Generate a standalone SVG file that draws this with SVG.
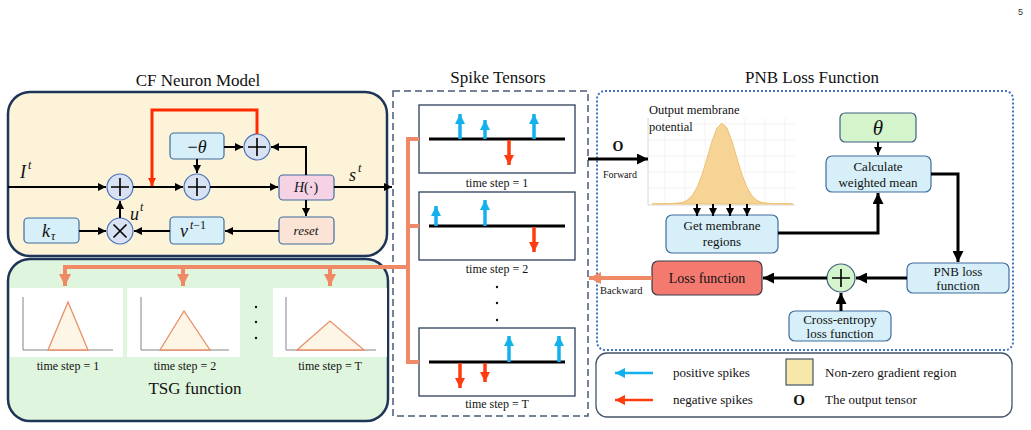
<svg xmlns="http://www.w3.org/2000/svg" width="1031" height="430" viewBox="0 0 1031 430">
<style>
.t{font-family:"Liberation Serif","Times New Roman",serif;fill:#111}
.m{font-family:"Liberation Serif","Times New Roman",serif;font-style:italic;fill:#111}
.node{fill:#d6eff8;stroke:#3f6d9e;stroke-width:1.2}
.circ{fill:#d9e2f3;stroke:#4a72b8;stroke-width:1.2}
.ln{fill:none;stroke:#000;stroke-width:2}
.thk{fill:none;stroke:#000;stroke-width:3}
.org{fill:none;stroke:#f08a66;stroke-width:4}
.blu{fill:none;stroke:#12b0ec;stroke-width:3.5}
.red{fill:none;stroke:#ff3b10;stroke-width:3.5}
.frame{fill:#fff;stroke:#2f3e5c;stroke-width:1.3}
.grid{stroke:#f0f0f0;stroke-width:0.8}
</style>
<defs>
<marker id="ah" viewBox="0 0 10 10" refX="10" refY="5" markerWidth="8" markerHeight="8" markerUnits="userSpaceOnUse" orient="auto"><path d="M0,0L10,5L0,10z" fill="#000"/></marker>
<marker id="ahb" viewBox="0 0 10 10" refX="10" refY="5" markerWidth="11" markerHeight="11" markerUnits="userSpaceOnUse" orient="auto"><path d="M0,0L10,5L0,10z" fill="#000"/></marker>
<marker id="ahr" viewBox="0 0 10 10" refX="10" refY="5" markerWidth="8" markerHeight="8" markerUnits="userSpaceOnUse" orient="auto"><path d="M0,0L10,5L0,10z" fill="#ff2a00"/></marker>
<marker id="aho" viewBox="0 0 10 10" refX="10" refY="5" markerWidth="12" markerHeight="12" markerUnits="userSpaceOnUse" orient="auto"><path d="M0,0L10,5L0,10z" fill="#f08a66"/></marker>
<marker id="ahbl" viewBox="0 0 10 10" refX="10" refY="5" markerWidth="10" markerHeight="10" markerUnits="userSpaceOnUse" orient="auto"><path d="M0,0L10,5L0,10z" fill="#12b0ec"/></marker>
<marker id="ahrd" viewBox="0 0 10 10" refX="10" refY="5" markerWidth="10" markerHeight="10" markerUnits="userSpaceOnUse" orient="auto"><path d="M0,0L10,5L0,10z" fill="#ff3b10"/></marker>
</defs>
<rect width="1031" height="430" fill="#fff"/>
<text x="1018" y="15" font-family="Liberation Sans,Arial,sans-serif" font-size="9" fill="#333">5</text>

<!-- Titles -->
<text class="t" x="198" y="86" font-size="17" text-anchor="middle">CF Neuron Model</text>
<text class="t" x="498" y="83" font-size="17" text-anchor="middle">Spike Tensors</text>
<text class="t" x="812" y="83" font-size="17" text-anchor="middle">PNB Loss Function</text>

<!-- Containers -->
<g id="cf-box"><rect x="8" y="92" width="379" height="164" rx="22" fill="#fcf3d9" stroke="#1f3558" stroke-width="2.5"/></g>
<g id="tsg-box"><rect x="8" y="259" width="380" height="162" rx="22" fill="#e0f5dd" stroke="#1f3558" stroke-width="2.5"/></g>
<g id="spike-box"><rect x="393" y="91" width="195" height="325" fill="none" stroke="#4a5a75" stroke-width="1.5" stroke-dasharray="7,4"/></g>
<g id="pnb-box"><rect x="597" y="91" width="416" height="259" rx="8" fill="none" stroke="#4472c4" stroke-width="2" stroke-dasharray="2,2"/></g>

<!-- CF neuron nodes -->
<g id="sum1"><circle class="circ" cx="120" cy="187" r="13"/><path d="M111,187h18M120,178v18" stroke="#000" stroke-width="1.6"/></g>
<g id="sum2"><circle class="circ" cx="197" cy="187" r="13"/><path d="M188,187h18M197,178v18" stroke="#000" stroke-width="1.6"/></g>
<g id="sum3"><circle class="circ" cx="257" cy="147" r="13"/><path d="M248,147h18M257,138v18" stroke="#000" stroke-width="1.6"/></g>
<g id="mult"><circle class="circ" cx="120" cy="231" r="13"/><path d="M113.5,224.5l13,13M126.5,224.5l-13,13" stroke="#000" stroke-width="1.6"/></g>
<g id="neg-theta"><rect class="node" x="170" y="133" width="54" height="26" rx="4"/><text class="m" x="197" y="153" font-size="18" text-anchor="middle"><tspan font-style="normal">−</tspan>θ</text></g>
<g id="heaviside"><rect x="279" y="175" width="55" height="25" rx="4" fill="#f6d3e4" stroke="#3f6d9e" stroke-width="1.2"/><text class="m" x="306" y="192" font-size="14" text-anchor="middle">H<tspan font-style="normal">(·)</tspan></text></g>
<g id="reset"><rect x="279" y="217" width="55" height="27" rx="4" fill="#fbe3d6" stroke="#3f6d9e" stroke-width="1.2"/><text class="m" x="306" y="235" font-size="13" text-anchor="middle">reset</text></g>
<g id="v-prev"><rect class="node" x="170" y="217" width="54" height="27" rx="4"/><text class="m" x="180" y="237" font-size="18">v</text><text class="m" x="190" y="229" font-size="12">t<tspan font-style="normal">−1</tspan></text></g>
<g id="k-tau"><rect class="node" x="24" y="218" width="55" height="25" rx="4"/><text class="m" x="42" y="237" font-size="18">k</text><text class="m" x="51" y="240" font-size="12">τ</text></g>
<text class="m" x="20" y="178" font-size="18">I</text><text class="m" x="28" y="169" font-size="12">t</text>
<text class="m" x="349" y="181" font-size="18">s</text><text class="m" x="358" y="172" font-size="12">t</text>
<text class="m" x="130" y="220" font-size="18">u</text><text class="m" x="140" y="211" font-size="12">t</text>

<!-- TSG panels -->
<g id="tsg1">
<rect x="10" y="288" width="113" height="69" fill="#fff"/>
<path d="M23,297V350H113" fill="none" stroke="#777" stroke-width="0.9"/>
<path d="M48,350L68,302L88,350z" fill="#fdf5e6" stroke="#e8906a" stroke-width="1.3"/>
<text class="t" x="68" y="370" font-size="12" text-anchor="middle">time step = 1</text>
</g>
<g id="tsg2">
<rect x="127" y="288" width="113" height="69" fill="#fff"/>
<path d="M141,297V350H229" fill="none" stroke="#777" stroke-width="0.9"/>
<path d="M160,350L184,311L210,350z" fill="#fdf5e6" stroke="#e8906a" stroke-width="1.3"/>
<text class="t" x="185" y="370" font-size="12" text-anchor="middle">time step = 2</text>
</g>
<g id="tsg3">
<rect x="273" y="288" width="114" height="69" fill="#fff"/>
<path d="M286,297V350H376" fill="none" stroke="#777" stroke-width="0.9"/>
<path d="M297,350L330,321L364,350z" fill="#fdf5e6" stroke="#e8906a" stroke-width="1.3"/>
<text class="t" x="330" y="370" font-size="12" text-anchor="middle">time step = T</text>
</g>
<g fill="#111"><circle cx="256" cy="307" r="1.2"/><circle cx="256" cy="322" r="1.2"/><circle cx="256" cy="338" r="1.2"/></g>
<text class="t" x="195" y="394" font-size="17" text-anchor="middle">TSG function</text>

<!-- Spike tensor frames -->
<g id="spikes1">
<rect class="frame" x="419" y="105" width="156" height="68"/>
<line x1="429" y1="139" x2="565" y2="139" stroke="#000" stroke-width="3"/>
<path class="blu" d="M460,139V114" marker-end="url(#ahbl)"/>
<path class="blu" d="M485,139V120" marker-end="url(#ahbl)"/>
<path class="blu" d="M534,139V114" marker-end="url(#ahbl)"/>
<path class="red" d="M509,140V165" marker-end="url(#ahrd)"/>
<text class="t" x="497" y="187" font-size="12" text-anchor="middle">time step = 1</text>
</g>
<g id="spikes2">
<rect class="frame" x="419" y="192" width="156" height="68"/>
<line x1="429" y1="226" x2="565" y2="226" stroke="#000" stroke-width="3"/>
<path class="blu" d="M436,226V206" marker-end="url(#ahbl)"/>
<path class="blu" d="M485,226V200" marker-end="url(#ahbl)"/>
<path class="red" d="M534,227V252" marker-end="url(#ahrd)"/>
<text class="t" x="497" y="273" font-size="12" text-anchor="middle">time step = 2</text>
</g>
<g fill="#111"><circle cx="497" cy="287" r="1.2"/><circle cx="497" cy="303" r="1.2"/><circle cx="497" cy="320" r="1.2"/></g>
<g id="spikesT">
<rect class="frame" x="419" y="328" width="156" height="68"/>
<line x1="429" y1="362" x2="565" y2="362" stroke="#000" stroke-width="3"/>
<path class="blu" d="M509,362V336" marker-end="url(#ahbl)"/>
<path class="blu" d="M559,362V336" marker-end="url(#ahbl)"/>
<path class="red" d="M460,363V388" marker-end="url(#ahrd)"/>
<path class="red" d="M485,363V382" marker-end="url(#ahrd)"/>
<text class="t" x="497" y="408" font-size="12" text-anchor="middle">time step = T</text>
</g>

<!-- PNB nodes -->
<g id="membrane-chart">
<g class="grid">
<line x1="648" y1="124" x2="795" y2="124"/><line x1="648" y1="140" x2="795" y2="140"/><line x1="648" y1="156" x2="795" y2="156"/><line x1="648" y1="172" x2="795" y2="172"/><line x1="648" y1="188" x2="795" y2="188"/>
<line x1="665" y1="118" x2="665" y2="205"/><line x1="685" y1="118" x2="685" y2="205"/><line x1="705" y1="118" x2="705" y2="205"/><line x1="725" y1="118" x2="725" y2="205"/><line x1="745" y1="118" x2="745" y2="205"/><line x1="765" y1="118" x2="765" y2="205"/><line x1="785" y1="118" x2="785" y2="205"/>
</g>
<path d="M648,118V205H795" fill="none" stroke="#ccc" stroke-width="0.8"/>
<path d="M652,203.9L672,203.6L682,202.6L687,200.4L692,195.8L697,187.6L702,174.8L707,158.4L712,141.2L717,128L722,123L727,128L732,141.2L737,158.4L742,174.8L747,187.6L752,195.8L757,200.4L762,202.6L772,203.6L793,203.9Z" fill="#f6d496" stroke="#f0c070" stroke-width="1" stroke-linejoin="round"/>
<text class="t" x="649" y="114" font-size="12.5">Output membrane</text>
<text class="t" x="649" y="131" font-size="12.5">potential</text>
</g>
<g id="get-membrane"><rect class="node" x="666" y="215" width="112" height="38" rx="6"/><text class="t" x="722" y="230" font-size="13" text-anchor="middle">Get membrane</text><text class="t" x="722" y="246" font-size="13" text-anchor="middle">regions</text></g>
<g id="theta"><rect x="840" y="113" width="76" height="29" rx="5" fill="#d4f4cc" stroke="#3f5f80" stroke-width="1.2"/><text class="m" x="878" y="135" font-size="21" text-anchor="middle">θ</text></g>
<g id="weighted-mean"><rect class="node" x="826" y="156" width="105" height="36" rx="6"/><text class="t" x="878" y="171" font-size="13" text-anchor="middle">Calculate</text><text class="t" x="878" y="187" font-size="13" text-anchor="middle">weighted mean</text></g>
<g id="pnb-loss"><rect class="node" x="907" y="263" width="102" height="30" rx="6"/><text class="t" x="958" y="276" font-size="13" text-anchor="middle">PNB loss</text><text class="t" x="958" y="290" font-size="13" text-anchor="middle">function</text></g>
<g id="plus"><circle cx="841" cy="278" r="14" fill="#d4f4cc" stroke="#3f5f80" stroke-width="1.2"/><path d="M832,278h18M841,269v18" stroke="#000" stroke-width="1.6"/></g>
<g id="cross-entropy"><rect class="node" x="789" y="311" width="102" height="30" rx="6"/><text class="t" x="840" y="324" font-size="13" text-anchor="middle">Cross-entropy</text><text class="t" x="840" y="338" font-size="13" text-anchor="middle">loss function</text></g>
<g id="loss-fn"><rect x="652" y="261" width="110" height="34" rx="6" fill="#f47a70" stroke="#3a3a4a" stroke-width="1.2"/><text class="t" x="707" y="283" font-size="14" text-anchor="middle">Loss function</text></g>

<!-- Legend -->
<g id="legend">
<rect x="596" y="353" width="416" height="64" rx="11" fill="#fff" stroke="#44546a" stroke-width="1.3"/>
<path d="M653,373H615" stroke="#12b0ec" stroke-width="2.5" marker-end="url(#ahbl)"/>
<path d="M653,400H615" stroke="#ff3b10" stroke-width="2.5" marker-end="url(#ahrd)"/>
<text class="t" x="673" y="377" font-size="13">positive spikes</text>
<text class="t" x="673" y="404" font-size="13">negative spikes</text>
<rect x="786" y="359" width="27" height="26" fill="#f5e8a8" stroke="#44546a" stroke-width="1.2"/>
<text class="t" x="799" y="405" font-size="15" font-weight="bold" text-anchor="middle">O</text>
<text class="t" x="825" y="377" font-size="13">Non-zero gradient region</text>
<text class="t" x="825" y="404" font-size="13">The output tensor</text>
</g>

<!-- Connectors -->
<g id="connectors">
<path class="ln" d="M8,187H106" marker-end="url(#ah)"/>
<path class="ln" d="M133,187H183" marker-end="url(#ah)"/>
<path class="ln" d="M210,187H278" marker-end="url(#ah)"/>
<path class="ln" d="M334,187H392" marker-end="url(#ah)"/>
<path class="ln" d="M224,147H243" marker-end="url(#ah)"/>
<path class="ln" d="M306,175V147H271" marker-end="url(#ah)"/>
<path class="ln" d="M197,159V173" marker-end="url(#ah)"/>
<path class="ln" d="M306,200V216" marker-end="url(#ah)"/>
<path class="ln" d="M279,231H225" marker-end="url(#ah)"/>
<path class="ln" d="M170,231H134" marker-end="url(#ah)"/>
<path class="ln" d="M79,231H106" marker-end="url(#ah)"/>
<path class="ln" d="M120,218V201" marker-end="url(#ah)"/>
<path d="M257,134V110H152V186" fill="none" stroke="#ff2a00" stroke-width="3" marker-end="url(#ahr)"/>
<path class="org" d="M419,139H408V362H419M408,226H419"/>
<path class="org" d="M408,267H65V286" marker-end="url(#aho)"/>
<path class="org" d="M183,267V286" marker-end="url(#aho)"/>
<path class="org" d="M330,267V286" marker-end="url(#aho)"/>
<path class="thk" d="M588,159H648" stroke-width="3.5" marker-end="url(#ahb)"/>
<text class="t" x="618" y="151" font-size="14" font-weight="bold" text-anchor="middle">O</text>
<text class="t" x="603" y="178" font-size="10">Forward</text>
<path class="ln" d="M697,204V216" marker-end="url(#ah)"/>
<path class="ln" d="M713,204V216" marker-end="url(#ah)"/>
<path class="ln" d="M730,204V216" marker-end="url(#ah)"/>
<path class="ln" d="M747,204V216" marker-end="url(#ah)"/>
<path class="ln" d="M878,142V155" marker-end="url(#ah)"/>
<path class="thk" d="M778,233H878V193" marker-end="url(#ahb)"/>
<path class="thk" d="M931,174H958V262" marker-end="url(#ahb)"/>
<path class="thk" d="M907,278H856" marker-end="url(#ahb)"/>
<path class="thk" d="M841,311V293" marker-end="url(#ahb)"/>
<path class="thk" d="M827,278H763" marker-end="url(#ahb)"/>
<path class="org" d="M652,278H589" marker-end="url(#aho)"/>
<text class="t" x="600" y="294" font-size="10.5">Backward</text>
</g>
</svg>
